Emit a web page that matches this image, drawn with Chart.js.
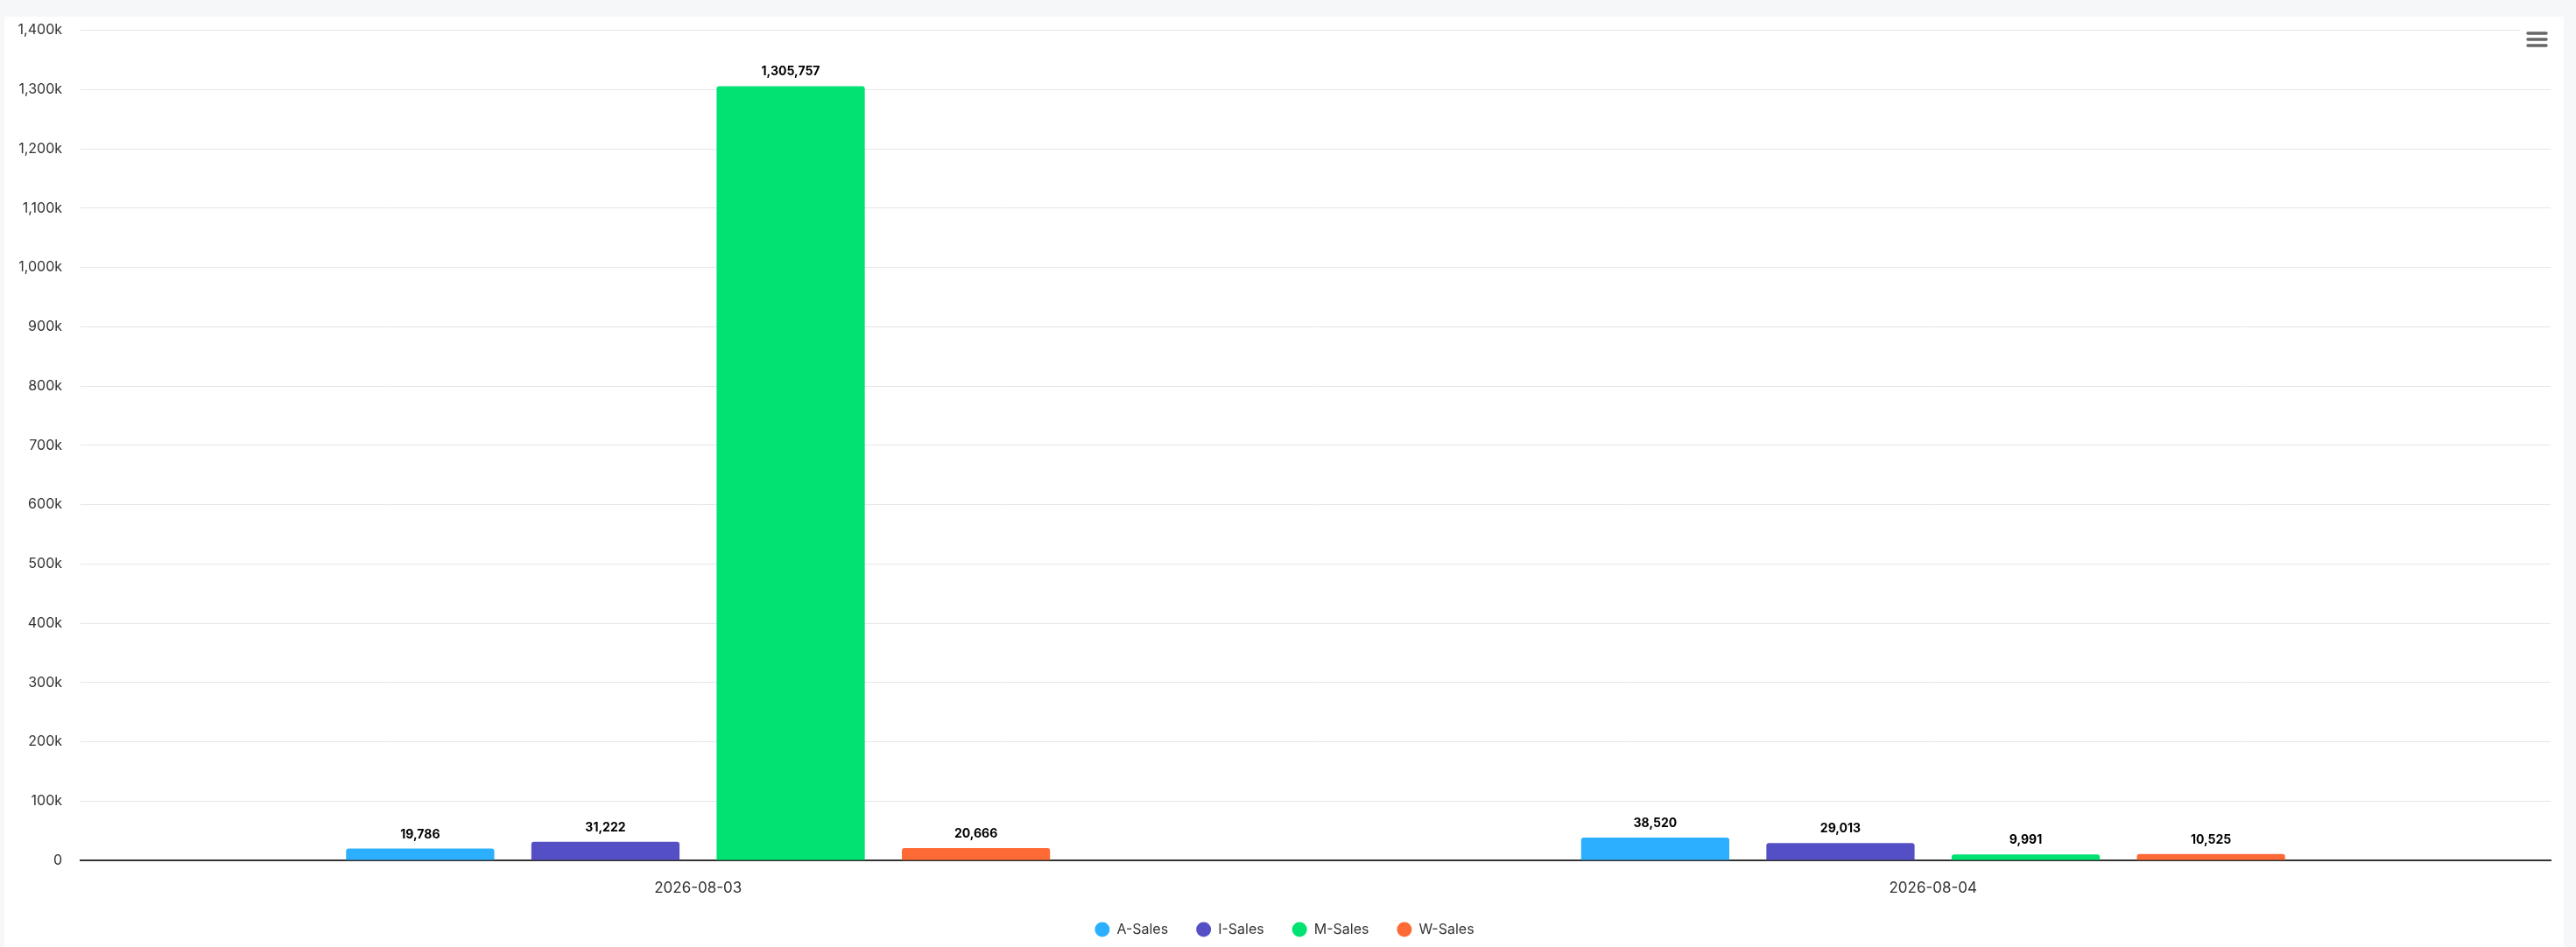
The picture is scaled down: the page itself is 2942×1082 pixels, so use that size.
<!DOCTYPE html>
<html>
<head>
<meta charset="utf-8">
<script src="https://cdn.jsdelivr.net/npm/chart.js@4.4.1/dist/chart.umd.min.js"></script>
<style>
    html, body { margin: 0; padding: 0; background: #f6f7f9; }
    body { width: 2942px; height: 1082px; position: relative; overflow: hidden; }
    #card { position: absolute; left: 5px; top: 19px; width: 2923px; height: 1063px; background: #fff; }
    #wrap { position: absolute; left: 0; top: -15px; width: 2923px; height: 1076px; }
</style>
</head>
<body>
<div id="card"><div id="wrap"><canvas id="myChart"></canvas></div></div>
<script>
const categories = ['2026-08-03', '2026-08-04'];
const seriesNames = ['A-Sales', 'I-Sales', 'M-Sales', 'W-Sales'];
const aSales = [19786, 38520];
const iSales = [31222, 29013];
const mSales = [1305757, 9991];
const wSales = [20666, 10525];
const seriesColors = ['#2caffe', '#544fc5', '#00e272', '#fe6a35'];
const yMax = 1400000;
const yStep = 100000;

const FONT = 'Inter, "Noto Sans", sans-serif';

let barCtx = document.getElementById('myChart').getContext('2d');

function fmt(n) {
    return n.toLocaleString('en-US');
}

//-- value labels on top of each bar, taken from the bar elements
const valueLabels = {
    id: 'valueLabels',
    afterDatasetsDraw(chart) {
        const ctx = chart.ctx;
        ctx.save();
        ctx.font = 'bold 14px ' + FONT;
        ctx.textAlign = 'center';
        ctx.textBaseline = 'alphabetic';
        ctx.lineJoin = 'round';
        chart.data.datasets.forEach((ds, i) => {
            chart.getDatasetMeta(i).data.forEach((bar, j) => {
                const txt = fmt(ds.data[j]);
                ctx.lineWidth = 3;
                ctx.strokeStyle = '#ffffff';
                ctx.strokeText(txt, bar.x, bar.y - 12);
                ctx.fillStyle = '#000000';
                ctx.fillText(txt, bar.x, bar.y - 12);
            });
        });
        ctx.restore();
    }
};

//-- nudge the legend a bit to the right, like the original
const legendNudge = {
    id: 'legendNudge',
    afterLayout(chart) {
        if (chart.legend) {
            chart.legend.left += 8;
            chart.legend.right += 8;
        }
    }
};

//-- the little menu button in the top right corner
const menuButton = {
    id: 'menuButton',
    afterDraw(chart) {
        const ctx = chart.ctx;
        ctx.save();
        ctx.fillStyle = '#ffffff';
        ctx.fillRect(2873, 20, 45, 36);
        ctx.strokeStyle = '#666666';
        ctx.lineWidth = 3.5;
        ctx.lineCap = 'round';
        [34, 41, 48].forEach(y => {
            ctx.beginPath();
            ctx.moveTo(2882, y);
            ctx.lineTo(2903, y);
            ctx.stroke();
        });
        ctx.restore();
    }
};

const seriesData = [aSales, iSales, mSales, wSales];

var myChart = new Chart(barCtx, {
    type: 'bar',
    data: {
        labels: categories,
        datasets: seriesNames.map((name, i) => ({
            label: name,
            data: seriesData[i],
            backgroundColor: seriesColors[i],
            borderWidth: 0,
            borderRadius: { topLeft: 3, topRight: 3 },
            borderSkipped: 'bottom',
            categoryPercentage: 0.6,
            barPercentage: 0.8
        }))
    },
    options: {
        responsive: true,
        maintainAspectRatio: false,
        animation: false,
        devicePixelRatio: 1,
        layout: { padding: { top: 13, right: 15, left: 0, bottom: 0 } },
        plugins: {
            tooltip: { enabled: false },
            legend: {
                position: 'bottom',
                labels: {
                    usePointStyle: true,
                    pointStyle: 'circle',
                    pointStyleWidth: 17,
                    boxHeight: 12,
                    padding: 32,
                    color: '#333333',
                    font: { family: FONT, size: 16 }
                }
            }
        },
        scales: {
            x: {
                grid: { display: false, drawTicks: false },
                border: { display: true, color: '#333333', width: 2 },
                ticks: {
                    padding: 22,
                    color: '#333333',
                    font: { family: FONT, size: 17 }
                },
                afterFit(scale) { scale.height = 39; }
            },
            y: {
                min: 0,
                max: yMax,
                beginAtZero: true,
                grid: { color: '#e6e6e6', lineWidth: 1, drawTicks: false },
                border: { display: false },
                ticks: {
                    stepSize: yStep,
                    padding: 21,
                    color: '#333333',
                    font: { family: FONT, size: 16 },
                    callback: v => v === 0 ? '0' : fmt(v / 1000) + 'k'
                },
                afterFit(scale) { scale.width = 87; }
            }
        }
    },
    plugins: [valueLabels, legendNudge, menuButton]
});
</script>
</body>
</html>
